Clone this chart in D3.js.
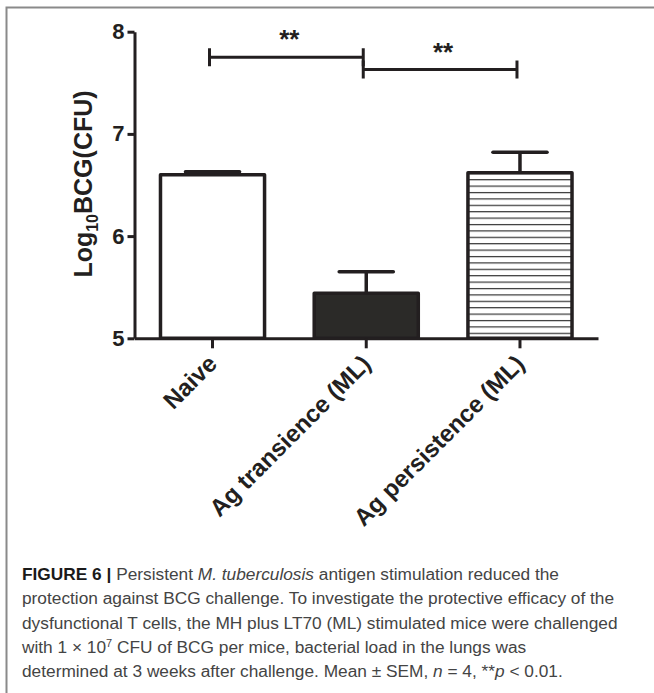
<!DOCTYPE html>
<html>
<head>
<meta charset="utf-8">
<script src="https://cdn.jsdelivr.net/npm/d3@7"></script>
<style>
body { margin: 0; background: #fff; }
svg { display: block; font-family: "Liberation Sans", Arial, Helvetica, sans-serif; }
</style>
</head>
<body>
<svg id="fig"></svg>
<script>
// log10 BCG CFU in lungs, mean + SEM per group
var groups = ["Naive", "Ag transience (ML)", "Ag persistence (ML)"];
var means = [6.60, 5.44, 6.62];
var sems = [0.03, 0.21, 0.20];
var yTicks = [5, 6, 7, 8];
// significance brackets (group index from/to, height in log10 units)
var sigFrom = [0, 1];
var sigTo = [1, 2];
var sigLevel = [7.75, 7.63];
var sigLabel = ["**", "**"];

var caption = [
    [["FIGURE 6 | ", "b"], ["Persistent ", ""], ["M. tuberculosis", "i"], [" antigen stimulation reduced the", ""]],
    [["protection against BCG challenge. To investigate the protective efficacy of the", ""]],
    [["dysfunctional T cells, the MH plus LT70 (ML) stimulated mice were challenged", ""]],
    [["with 1 \u00d7 10", ""], ["7", "sup"], [" CFU of BCG per mice, bacterial load in the lungs was", ""]],
    [["determined at 3 weeks after challenge. Mean \u00b1 SEM, ", ""], ["n", "i"], [" = 4, **", ""], ["p", "i"], [" < 0.01.", ""]]
];

var ink = "#231f20";
var W = 654, H = 693;

var svg = d3.select("#fig").attr("width", W).attr("height", H);

// frame of the figure panel
svg.append("path")
    .attr("d", "M6.5," + H + "V7.5H" + W)
    .attr("fill", "none").attr("stroke", "#8a8a8a").attr("stroke-width", 2);

var x = d3.scaleBand().domain(groups).range([134.5, 598]).paddingInner(0.323).paddingOuter(0.169);
var y = d3.scaleLinear().domain([5, 8]).range([338.3, 31.7]);

// stripe pattern for the persistence bar
var defs = svg.append("defs");
var pat = defs.append("pattern").attr("id", "stripes")
    .attr("patternUnits", "userSpaceOnUse").attr("width", 10).attr("height", 6.4)
    .attr("y", y(means[2]));
pat.append("rect").attr("width", 10).attr("height", 6.4).attr("fill", "#fff");
pat.append("line").attr("x1", 0).attr("x2", 10).attr("y1", 0.6).attr("y2", 0.6)
    .attr("stroke", "#333").attr("stroke-width", 1.2);

var barFill = ["#fff", "#2b2a28", "url(#stripes)"];

var g = svg.append("g");

// bars
g.selectAll(".bar").data(groups).join("rect").attr("class", "bar")
    .attr("x", d => x(d))
    .attr("y", (d, i) => y(means[i]))
    .attr("width", x.bandwidth())
    .attr("height", (d, i) => y(5) - y(means[i]))
    .attr("fill", (d, i) => barFill[i])
    .attr("stroke", ink).attr("stroke-width", 3.5).attr("stroke-linejoin", "round");

// error bars (upper SEM only)
var capW = x.bandwidth() * 0.52;
groups.forEach(function (d, i) {
    var cx = x(d) + x.bandwidth() / 2;
    g.append("line").attr("x1", cx).attr("x2", cx)
        .attr("y1", y(means[i])).attr("y2", y(means[i] + sems[i]))
        .attr("stroke", ink).attr("stroke-width", 3.5);
    g.append("line").attr("x1", cx - capW / 2).attr("x2", cx + capW / 2)
        .attr("y1", y(means[i] + sems[i])).attr("y2", y(means[i] + sems[i]))
        .attr("stroke", ink).attr("stroke-width", 3.5).attr("stroke-linecap", "round");
});

// y axis
var yAxis = svg.append("g").attr("transform", "translate(134.5,0)")
    .call(d3.axisLeft(y).tickValues(yTicks).tickSize(7).tickSizeOuter(0).tickPadding(3).tickFormat(d3.format("d")));
yAxis.select(".domain").attr("stroke", ink).attr("stroke-width", 3);
yAxis.selectAll(".tick line").attr("stroke", ink).attr("stroke-width", 3);
yAxis.selectAll(".tick text").attr("fill", ink)
    .style("font-size", "22px").style("font-weight", "bold").style("font-family", "Liberation Sans, Arial, sans-serif");

// x axis
var xAxis = svg.append("g").attr("transform", "translate(0," + y(5) + ")")
    .call(d3.axisBottom(x).tickSize(10).tickSizeOuter(0));
xAxis.select(".domain").attr("stroke", ink).attr("stroke-width", 3);
xAxis.selectAll(".tick line").attr("stroke", ink).attr("stroke-width", 3);
xAxis.selectAll(".tick text")
    .attr("x", 0).attr("y", 0).attr("dy", "0.35em")
    .attr("text-anchor", "end")
    .attr("transform", "translate(0,21) rotate(-45)")
    .attr("fill", ink)
    .style("font-size", "24px").style("font-weight", "bold").style("font-family", "Liberation Sans, Arial, sans-serif");

// y axis title
var yt = svg.append("text")
    .attr("transform", "translate(92,184) rotate(-90)")
    .attr("text-anchor", "middle")
    .attr("fill", ink)
    .style("font-size", "25px").style("font-weight", "bold");
yt.append("tspan").text("Log");
yt.append("tspan").attr("dy", 6).style("font-size", "16px").text("10");
yt.append("tspan").attr("dy", -6).text("BCG(CFU)");

// significance brackets
sigFrom.forEach(function (a, k) {
    var x1 = x(groups[a]) + x.bandwidth() / 2 - 3,
        x2 = x(groups[sigTo[k]]) + x.bandwidth() / 2 - 3,
        yy = y(sigLevel[k]);
    var b = svg.append("g").attr("stroke", ink).attr("stroke-width", 3);
    b.append("line").attr("x1", x1).attr("x2", x2).attr("y1", yy).attr("y2", yy);
    b.append("line").attr("x1", x1).attr("x2", x1).attr("y1", yy - 9).attr("y2", yy + 9);
    b.append("line").attr("x1", x2).attr("x2", x2).attr("y1", yy - 9).attr("y2", yy + 9);
    svg.append("text").attr("x", (x1 + x2) / 2 + 3).attr("y", yy - 9)
        .attr("text-anchor", "middle").attr("fill", ink)
        .style("font-size", "26px").style("font-weight", "bold")
        .text(sigLabel[k]);
});

// caption
var cap = svg.append("text").attr("fill", "#444").style("font-size", "17.3px");
caption.forEach(function (line, li) {
    var first = true, afterSup = false;
    line.forEach(function (seg) {
        var t = cap.append("tspan").text(seg[0]);
        if (first) { t.attr("x", 22).attr("y", 580 + li * 24.3); first = false; }
        if (afterSup) { t.attr("dy", 6); afterSup = false; }
        if (seg[1] == "b") t.style("font-weight", "bold").attr("fill", "#1a1a1a");
        if (seg[1] == "i") t.style("font-style", "italic");
        if (seg[1] == "sup") { t.attr("dy", -6).style("font-size", "11px"); afterSup = true; }
    });
});
</script>
</body>
</html>
